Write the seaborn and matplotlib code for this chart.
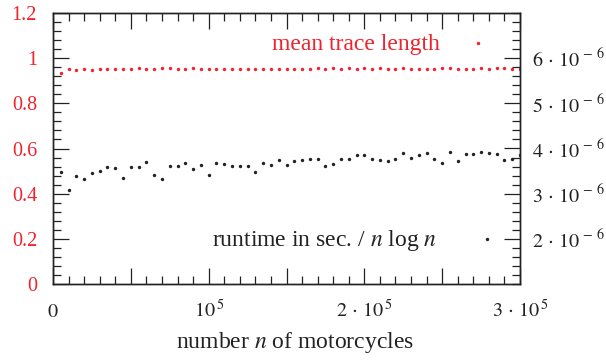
import matplotlib
matplotlib.use("Agg")
import matplotlib.pyplot as plt
import seaborn as sns
import pandas as pd
from matplotlib.ticker import MultipleLocator, FixedLocator, FuncFormatter

# ---- data ----
n_thousands = [5, 10, 15, 20, 25, 30, 35, 40, 45, 50,
               55, 60, 65, 70, 75, 80, 85, 90, 95, 100,
               105, 110, 115, 120, 125, 130, 135, 140, 145, 150,
               155, 160, 165, 170, 175, 180, 185, 190, 195, 200,
               205, 210, 215, 220, 225, 230, 235, 240, 245, 250,
               255, 260, 265, 270, 275, 280, 285, 290, 295, 300]

mean_trace_length = [0.935, 0.954, 0.947, 0.951, 0.947, 0.950, 0.951, 0.951, 0.950, 0.951,
                     0.956, 0.953, 0.954, 0.956, 0.956, 0.951, 0.954, 0.957, 0.954, 0.953,
                     0.953, 0.953, 0.954, 0.954, 0.954, 0.954, 0.954, 0.954, 0.954, 0.954,
                     0.951, 0.953, 0.954, 0.956, 0.954, 0.956, 0.954, 0.956, 0.954, 0.956,
                     0.954, 0.956, 0.954, 0.954, 0.956, 0.954, 0.954, 0.954, 0.954, 0.956,
                     0.957, 0.954, 0.954, 0.954, 0.956, 0.954, 0.956, 0.956, 0.954, 0.954]

# runtime in sec / (n log n), in units of 1e-6
runtime_e6 = [3.470, 3.075, 3.390, 3.315, 3.455, 3.500, 3.580, 3.575, 3.345, 3.580,
              3.590, 3.700, 3.410, 3.325, 3.610, 3.605, 3.675, 3.540, 3.640, 3.405,
              3.690, 3.650, 3.605, 3.620, 3.620, 3.480, 3.670, 3.625, 3.735, 3.635,
              3.720, 3.735, 3.760, 3.760, 3.610, 3.655, 3.765, 3.765, 3.855, 3.855,
              3.770, 3.735, 3.720, 3.770, 3.890, 3.795, 3.860, 3.905, 3.765, 3.675,
              3.915, 3.720, 3.870, 3.885, 3.920, 3.890, 3.870, 3.750, 3.760, 3.855]

left_ticks = [0, 0.2, 0.4, 0.6, 0.8, 1.0, 1.2]
right_ticks = [2, 3, 4, 5, 6]
x_labels = {0: r"$0$", 100000: r"$10^{\,5}$",
            200000: r"$2\,\cdot\,10^{\,5}$", 300000: r"$3\,\cdot\,10^{\,5}$"}

df = pd.DataFrame({
    "n": [k * 1000 for k in n_thousands],
    "trace": mean_trace_length,
    "runtime": runtime_e6,
})

RED = "#f0222b"
DARK = "#222222"

sns.set_theme(style="ticks")
plt.rcParams["font.family"] = ["Liberation Serif", "DejaVu Serif"]
plt.rcParams["mathtext.fontset"] = "stix"
plt.rcParams["axes.edgecolor"] = DARK
plt.rcParams["axes.linewidth"] = 1.0

fig = plt.figure(figsize=(6.06, 3.6), dpi=100)
ax = fig.add_axes([53 / 606, 1 - 284 / 360, 467 / 606, 271 / 360])
ax2 = ax.twinx()

sns.scatterplot(data=df, x="n", y="trace", ax=ax, color=RED, s=6, marker="o",
                linewidth=0, label="mean trace length", legend=False)
sns.scatterplot(data=df, x="n", y="runtime", ax=ax2, color=DARK, s=6, marker="o",
                linewidth=0, label=r"runtime in sec. / $n$ log $n$", legend=False)

ax.set_xlim(0, 300000)
ax.set_ylim(0, 1.2)
ax2.set_ylim(1, 7)

# x axis
ax.xaxis.set_major_locator(MultipleLocator(50000))
ax.xaxis.set_minor_locator(MultipleLocator(10000))
ax.xaxis.set_major_formatter(FuncFormatter(lambda v, p: x_labels.get(int(round(v)), "")))
ax.tick_params(axis="x", which="both", direction="in", top=True, bottom=True,
               colors=DARK, labelsize=14.5, width=0.9)
ax.tick_params(axis="x", which="major", length=11.5, pad=24)
ax.tick_params(axis="x", which="minor", length=6)

# left y axis
ax.yaxis.set_major_locator(FixedLocator(left_ticks))
ax.yaxis.set_minor_locator(MultipleLocator(0.04))
ax.yaxis.set_major_formatter(FuncFormatter(lambda v, p: "%g" % round(v, 2)))
ax.tick_params(axis="y", which="both", direction="in", left=True, right=False,
               color=DARK, labelcolor=RED, labelsize=14.5, width=0.9)
ax.tick_params(axis="y", which="major", length=11.5, pad=11.5)
ax.tick_params(axis="y", which="minor", length=6)

# right y axis
ax2.yaxis.set_major_locator(FixedLocator(right_ticks))
ax2.yaxis.set_minor_locator(MultipleLocator(0.2))
ax2.yaxis.set_major_formatter(FuncFormatter(lambda v, p: r"$%d\,\cdot\,10^{\,-\,6}$" % round(v)))
ax2.tick_params(axis="y", which="both", direction="in", right=True, left=False,
                color=DARK, labelcolor=DARK, labelsize=14.5, width=0.9)
ax2.tick_params(axis="y", which="major", length=11.5, pad=9)
ax2.tick_params(axis="y", which="minor", length=6)
ax2.set_ylabel("")
ax.set_ylabel("")

ax.set_xlabel(r"number $n$ of motorcycles", fontsize=17, color=DARK)
ax.xaxis.set_label_coords(0.519, -0.236)
ax.xaxis.label.set_va("baseline")

# legends
leg1 = ax.legend(loc="center right", bbox_to_anchor=(0.935, 0.886), frameon=False,
                 markerfirst=False, fontsize=17, handlelength=1.0, handletextpad=1.11,
                 borderpad=0, borderaxespad=0, scatterpoints=1, labelcolor=RED)
leg2 = ax2.legend(loc="center right", bbox_to_anchor=(0.9546, 0.162), frameon=False,
                  markerfirst=False, fontsize=17, handlelength=1.0, handletextpad=1.62,
                  borderpad=0, borderaxespad=0, scatterpoints=1, labelcolor=DARK)

fig.canvas.draw()
for lbl in ax.get_xticklabels():
    lbl.set_va("baseline")

fig.savefig("out.png", dpi=100)
